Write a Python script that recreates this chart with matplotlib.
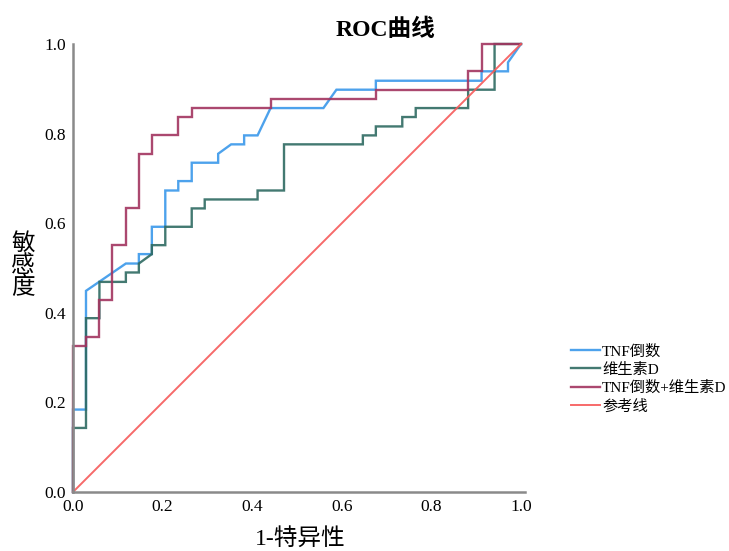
import matplotlib
matplotlib.use("Agg")
import matplotlib.pyplot as plt

plt.rcParams['font.family'] = ['Liberation Serif', 'Noto Sans CJK SC', 'DejaVu Sans']

# ROC points (1-specificity, sensitivity)
tnf_fpr = [0, 0, .029, .029, .118, .147, .147, .176, .176, .206, .206, .235, .235, .265, .265,
           .324, .324, .353, .382, .382, .412, .441, .559, .588, .676, .676, .912, .912, .971, .971, 1]
tnf_tpr = [0, .184, .184, .449, .510, .510, .531, .531, .592, .592, .673, .673, .694, .694, .735,
           .735, .755, .776, .776, .796, .796, .857, .857, .898, .898, .918, .918, .939, .939, .959, 1]

vitd_fpr = [0, 0, .029, .029, .059, .059, .118, .118, .147, .147, .176, .176, .206, .206, .265, .265,
            .294, .294, .412, .412, .471, .471, .647, .647, .676, .676, .735, .735, .765, .765,
            .882, .882, .941, .941, 1]
vitd_tpr = [0, .143, .143, .388, .388, .469, .469, .490, .490, .510, .531, .551, .551, .592, .592, .633,
            .633, .653, .653, .673, .673, .776, .776, .796, .796, .816, .816, .837, .837, .857,
            .857, .898, .898, 1, 1]

combo_fpr = [0, 0, .029, .029, .059, .059, .088, .088, .118, .118, .147, .147, .176, .176,
             .235, .235, .265, .265, .441, .441, .676, .676, .882, .882, .912, .912, 1]
combo_tpr = [0, .327, .327, .347, .347, .429, .429, .551, .551, .633, .633, .755, .755, .796,
             .796, .837, .837, .857, .857, .878, .878, .898, .898, .939, .939, 1, 1]

ref_x = [0, 1]
ref_y = [0, 1]

labels = ['TNF倒数', '维生素D', 'TNF倒数+维生素D', '参考线']
colors = ['#3a98ea', '#2e6a62', '#a2345f', '#f65a5a']

fig = plt.figure(figsize=(7.29, 5.51), dpi=100)
ax = fig.add_axes([73 / 729, 59 / 551, 448 / 729, 448 / 551])

series = [(tnf_fpr, tnf_tpr), (vitd_fpr, vitd_tpr), (combo_fpr, combo_tpr), (ref_x, ref_y)]
for (xs, ys), lab, c in zip(series, labels, colors):
    lw = 1.4 if lab == '参考线' else 1.7
    ax.plot(xs, ys, color=c, lw=lw, label=lab, alpha=0.9, clip_on=False,
            solid_joinstyle='miter')

ax.set_xlim(0, 1)
ax.set_ylim(0, 1)
ax.set_xticks([0, 0.2, 0.4, 0.6, 0.8, 1.0])
ax.set_yticks([0, 0.2, 0.4, 0.6, 0.8, 1.0])
ax.xaxis.set_major_formatter(matplotlib.ticker.FormatStrFormatter('%.1f'))
ax.yaxis.set_major_formatter(matplotlib.ticker.FormatStrFormatter('%.1f'))
ax.tick_params(length=0, labelsize=12.5, pad=5)
for s in ['top', 'right']:
    ax.spines[s].set_visible(False)
for s in ['left', 'bottom']:
    ax.spines[s].set_color('#8a8a8a')
    ax.spines[s].set_linewidth(1.8)
ax.spines['bottom'].set_bounds(0, 1.01)

fig.text(385 / 729, 1 - 30 / 551, 'ROC曲线', ha='center', va='center', fontsize=17, fontweight='bold')
fig.text(300 / 729, 1 - 539 / 551, '1-特异性', ha='center', va='center', fontsize=17)
fig.text(23 / 729, 1 - 266 / 551, '敏\n感\n度', ha='center', va='center', fontsize=17, linespacing=1.0)

fig.legend(loc='upper left', bbox_to_anchor=(565 / 729, 1 - 338 / 551), frameon=False,
           fontsize=11, handlelength=1.9, handletextpad=0.12, labelspacing=0.28,
           borderaxespad=0)

fig.savefig('out.png', dpi=100)
